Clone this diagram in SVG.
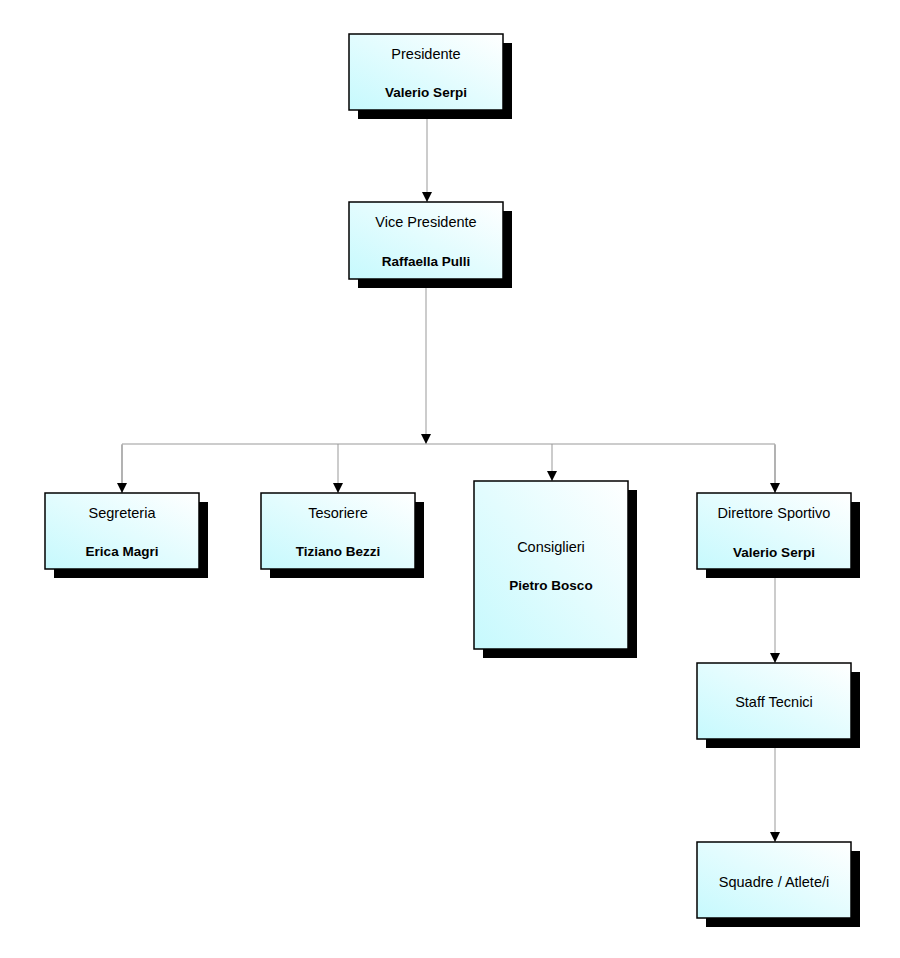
<svg xmlns="http://www.w3.org/2000/svg" width="900" height="958" viewBox="0 0 900 958">
<defs>
<linearGradient id="g" x1="0" y1="1" x2="1" y2="0">
<stop offset="0" stop-color="#c6f9fd"/>
<stop offset="1" stop-color="#ffffff"/>
</linearGradient>
<marker id="arr" viewBox="0 0 10 10" refX="10" refY="5" markerWidth="10" markerHeight="10" markerUnits="userSpaceOnUse" orient="auto">
<path d="M0,0 L10,5 L0,10 Z" fill="#000"/>
</marker>
<style>
.sh{fill:#000}
.bx{fill:url(#g);stroke:#000;stroke-width:1.5}
.t{font-family:"Liberation Sans",Arial,sans-serif;font-size:14.5px;fill:#000;text-anchor:middle}
.b{font-family:"Liberation Sans",Arial,sans-serif;font-size:13.5px;font-weight:bold;fill:#000;text-anchor:middle}
.c{fill:none;stroke:#999;stroke-width:1}
</style>
</defs>
<rect width="900" height="958" fill="#fff"/>
<g id="connectors">
<line class="c" x1="427" y1="119" x2="427" y2="202" marker-end="url(#arr)"/>
<line class="c" x1="426" y1="288" x2="426" y2="444" marker-end="url(#arr)"/>
<polyline class="c" points="122,493 122,444 775,444 775,493"/>
<line class="c" x1="122" y1="445" x2="122" y2="493" marker-end="url(#arr)"/>
<line class="c" x1="338" y1="444" x2="338" y2="493" marker-end="url(#arr)"/>
<line class="c" x1="552" y1="444" x2="552" y2="481" marker-end="url(#arr)"/>
<line class="c" x1="775" y1="445" x2="775" y2="493" marker-end="url(#arr)"/>
<line class="c" x1="775" y1="578" x2="775" y2="663" marker-end="url(#arr)"/>
<line class="c" x1="775" y1="748" x2="775" y2="842" marker-end="url(#arr)"/>
</g>
<g id="presidente">
<rect class="sh" x="358" y="43" width="154" height="76"/>
<rect class="bx" x="349" y="34" width="154" height="76"/>
<text class="t" x="426" y="59">Presidente</text>
<text class="b" x="426" y="97">Valerio Serpi</text>
</g>
<g id="vice-presidente">
<rect class="sh" x="358" y="211" width="154" height="77"/>
<rect class="bx" x="349" y="202" width="154" height="77"/>
<text class="t" x="426" y="227">Vice Presidente</text>
<text class="b" x="426" y="266">Raffaella Pulli</text>
</g>
<g id="segreteria">
<rect class="sh" x="54" y="502" width="154" height="76"/>
<rect class="bx" x="45" y="493" width="154" height="76"/>
<text class="t" x="122" y="518">Segreteria</text>
<text class="b" x="122" y="556">Erica Magri</text>
</g>
<g id="tesoriere">
<rect class="sh" x="270" y="502" width="154" height="76"/>
<rect class="bx" x="261" y="493" width="154" height="76"/>
<text class="t" x="338" y="518">Tesoriere</text>
<text class="b" x="338" y="556">Tiziano Bezzi</text>
</g>
<g id="consiglieri">
<rect class="sh" x="483" y="490" width="154" height="168"/>
<rect class="bx" x="474" y="481" width="154" height="168"/>
<text class="t" x="551" y="552">Consiglieri</text>
<text class="b" x="551" y="590">Pietro Bosco</text>
</g>
<g id="direttore-sportivo">
<rect class="sh" x="706" y="502" width="154" height="76"/>
<rect class="bx" x="697" y="493" width="154" height="76"/>
<text class="t" x="774" y="518">Direttore Sportivo</text>
<text class="b" x="774" y="557">Valerio Serpi</text>
</g>
<g id="staff-tecnici">
<rect class="sh" x="706" y="672" width="154" height="76"/>
<rect class="bx" x="697" y="663" width="154" height="76"/>
<text class="t" x="774" y="707">Staff Tecnici</text>
</g>
<g id="squadre-atleti">
<rect class="sh" x="706" y="851" width="154" height="76"/>
<rect class="bx" x="697" y="842" width="154" height="76"/>
<text class="t" x="774" y="887">Squadre / Atlete/i</text>
</g>
</svg>
